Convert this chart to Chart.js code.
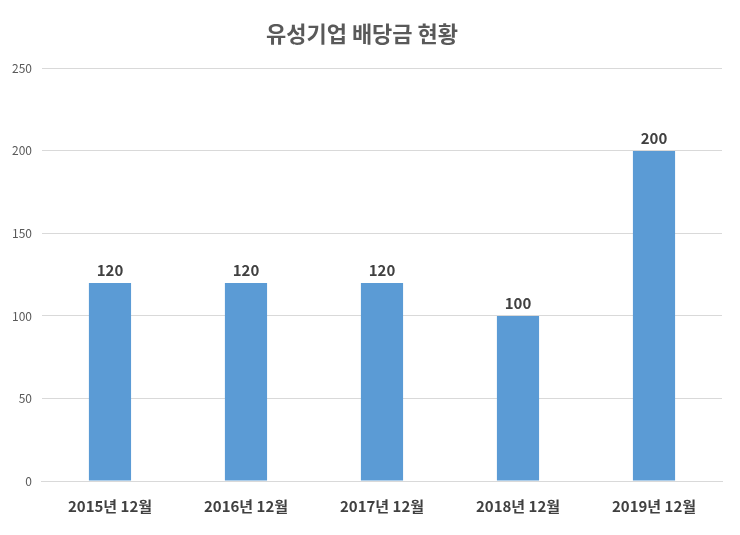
<!DOCTYPE html>
<html><head><meta charset="utf-8">
<script src="https://cdn.jsdelivr.net/npm/chart.js@4"></script>
<style>html,body{margin:0;background:#fff}#wrap{width:740px;height:535px}</style>
</head><body><div id="wrap"><canvas id="c"></canvas></div>
<script>
// 유성기업 배당금 현황
var categories=['2015년 12월','2016년 12월','2017년 12월','2018년 12월','2019년 12월'];
var dividends=[120,120,120,100,200];
var yTicks=[0,50,100,150,200,250];

var FONT='"Noto Sans CJK KR","Noto Sans",sans-serif';

// 막대 위 값 표시
var valueLabels={id:'valueLabels',afterDatasetsDraw:function(ch){
  var ctx=ch.ctx,meta=ch.getDatasetMeta(0);
  ctx.save();ctx.font='bold 15px '+FONT;ctx.fillStyle='#404040';ctx.textAlign='center';ctx.textBaseline='bottom';
  meta.data.forEach(function(b,i){ctx.fillText(dividends[i],b.x,b.y-5);});
  ctx.restore();
}};

new Chart(document.getElementById('c'),{
  type:'bar',
  data:{labels:categories,datasets:[{data:dividends,backgroundColor:'#5b9bd5',barPercentage:0.31,categoryPercentage:1}]},
  options:{responsive:true,maintainAspectRatio:false,animation:false,
    layout:{padding:{left:2,right:18,top:14,bottom:12}},
    plugins:{legend:{display:false},tooltip:{enabled:false},
      title:{display:true,text:'유성기업 배당금 현황',color:'#595959',font:{family:FONT,size:22,weight:'bold'},padding:{top:6,bottom:22}}},
    scales:{
      x:{grid:{display:false},border:{color:'#d9d9d9'},ticks:{color:'#404040',font:{family:FONT,size:15,weight:'bold'},padding:8}},
      y:{min:0,max:250,afterBuildTicks:function(a){a.ticks=yTicks.map(function(v){return{value:v};});},
        grid:{color:'#d9d9d9',drawTicks:false},border:{display:false},
        ticks:{color:'#595959',font:{family:FONT,size:12},padding:10}}
    }},
  plugins:[valueLabels]
});
</script></body></html>
